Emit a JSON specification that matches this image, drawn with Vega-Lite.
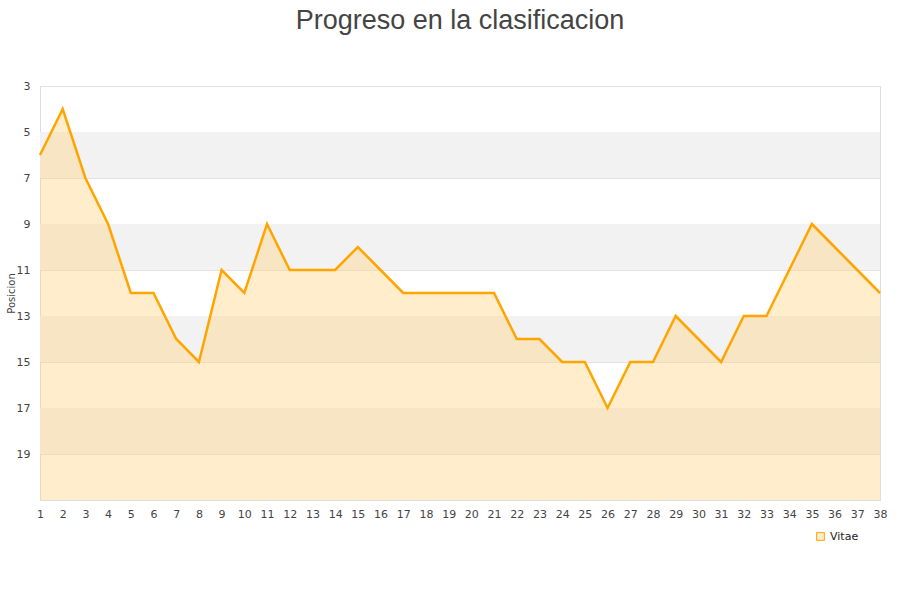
{
  "$schema": "https://vega.github.io/schema/vega-lite/v6.json",
  "autosize": "none",
  "width": 840,
  "height": 414,
  "padding": {"left": 40, "top": 86, "right": 20, "bottom": 100},
  "background": "white",
  "config": {
    "font": "DejaVu Sans",
    "view": {"stroke": "#dddddd"},
    "axis": {"labelColor": "#444444", "labelFontSize": 11, "titleColor": "#444444", "titleFontWeight": "normal", "titleFontSize": 10}
  },
  "title": {
    "text": "Progreso en la clasificacion",
    "font": "Liberation Sans",
    "fontSize": 27,
    "fontWeight": "normal",
    "color": "#444444",
    "anchor": "middle",
    "offset": 45
  },
  "datasets": {
    "pos": [
      {"j": 1, "p": 6}, {"j": 2, "p": 4}, {"j": 3, "p": 7}, {"j": 4, "p": 9},
      {"j": 5, "p": 12}, {"j": 6, "p": 12}, {"j": 7, "p": 14}, {"j": 8, "p": 15},
      {"j": 9, "p": 11}, {"j": 10, "p": 12}, {"j": 11, "p": 9}, {"j": 12, "p": 11},
      {"j": 13, "p": 11}, {"j": 14, "p": 11}, {"j": 15, "p": 10}, {"j": 16, "p": 11},
      {"j": 17, "p": 12}, {"j": 18, "p": 12}, {"j": 19, "p": 12}, {"j": 20, "p": 12},
      {"j": 21, "p": 12}, {"j": 22, "p": 14}, {"j": 23, "p": 14}, {"j": 24, "p": 15},
      {"j": 25, "p": 15}, {"j": 26, "p": 17}, {"j": 27, "p": 15}, {"j": 28, "p": 15},
      {"j": 29, "p": 13}, {"j": 30, "p": 14}, {"j": 31, "p": 15}, {"j": 32, "p": 13},
      {"j": 33, "p": 13}, {"j": 34, "p": 11}, {"j": 35, "p": 9}, {"j": 36, "p": 10},
      {"j": 37, "p": 11}, {"j": 38, "p": 12}
    ],
    "bands": [
      {"a": 5, "b": 7}, {"a": 9, "b": 11}, {"a": 13, "b": 15}, {"a": 17, "b": 19}
    ]
  },
  "layer": [
    {
      "data": {"name": "bands"},
      "mark": {"type": "rect", "fill": "#f2f2f2"},
      "encoding": {
        "y": {"field": "a", "type": "quantitative", "scale": {"domain": [3, 21], "reverse": true, "zero": false, "nice": false},
          "axis": {"values": [3, 5, 7, 9, 11, 13, 15, 17, 19], "title": "Posicion", "grid": true, "gridColor": "#e3e3e3", "ticks": false, "domain": false, "labelPadding": 10, "titleX": -24}},
        "y2": {"field": "b"}
      }
    },
    {
      "data": {"name": "pos"},
      "mark": {"type": "area", "fill": "#ffd27f", "opacity": 0.4},
      "encoding": {
        "x": {"field": "j", "type": "ordinal", "scale": {"type": "point", "padding": 0},
          "axis": {"title": null, "grid": false, "ticks": false, "domain": false, "labelAngle": 0, "labelPadding": 8, "labelOverlap": false, "labelFlush": false}},
        "y": {"field": "p", "type": "quantitative"},
        "y2": {"datum": 21}
      }
    },
    {
      "data": {"name": "pos"},
      "mark": {"type": "line", "color": "#ffa500", "strokeWidth": 2.5},
      "encoding": {
        "x": {"field": "j", "type": "ordinal"},
        "y": {"field": "p", "type": "quantitative"},
        "stroke": {"datum": "Vitae", "type": "nominal",
          "scale": {"range": ["#ffa500"]},
          "legend": {"orient": "none", "legendX": 775, "legendY": 445, "title": null, "symbolType": "square", "symbolSize": 60, "symbolFillColor": "#ffedcc", "symbolStrokeWidth": 1, "labelFontSize": 11, "labelColor": "#222222"}}
      }
    }
  ]
}
